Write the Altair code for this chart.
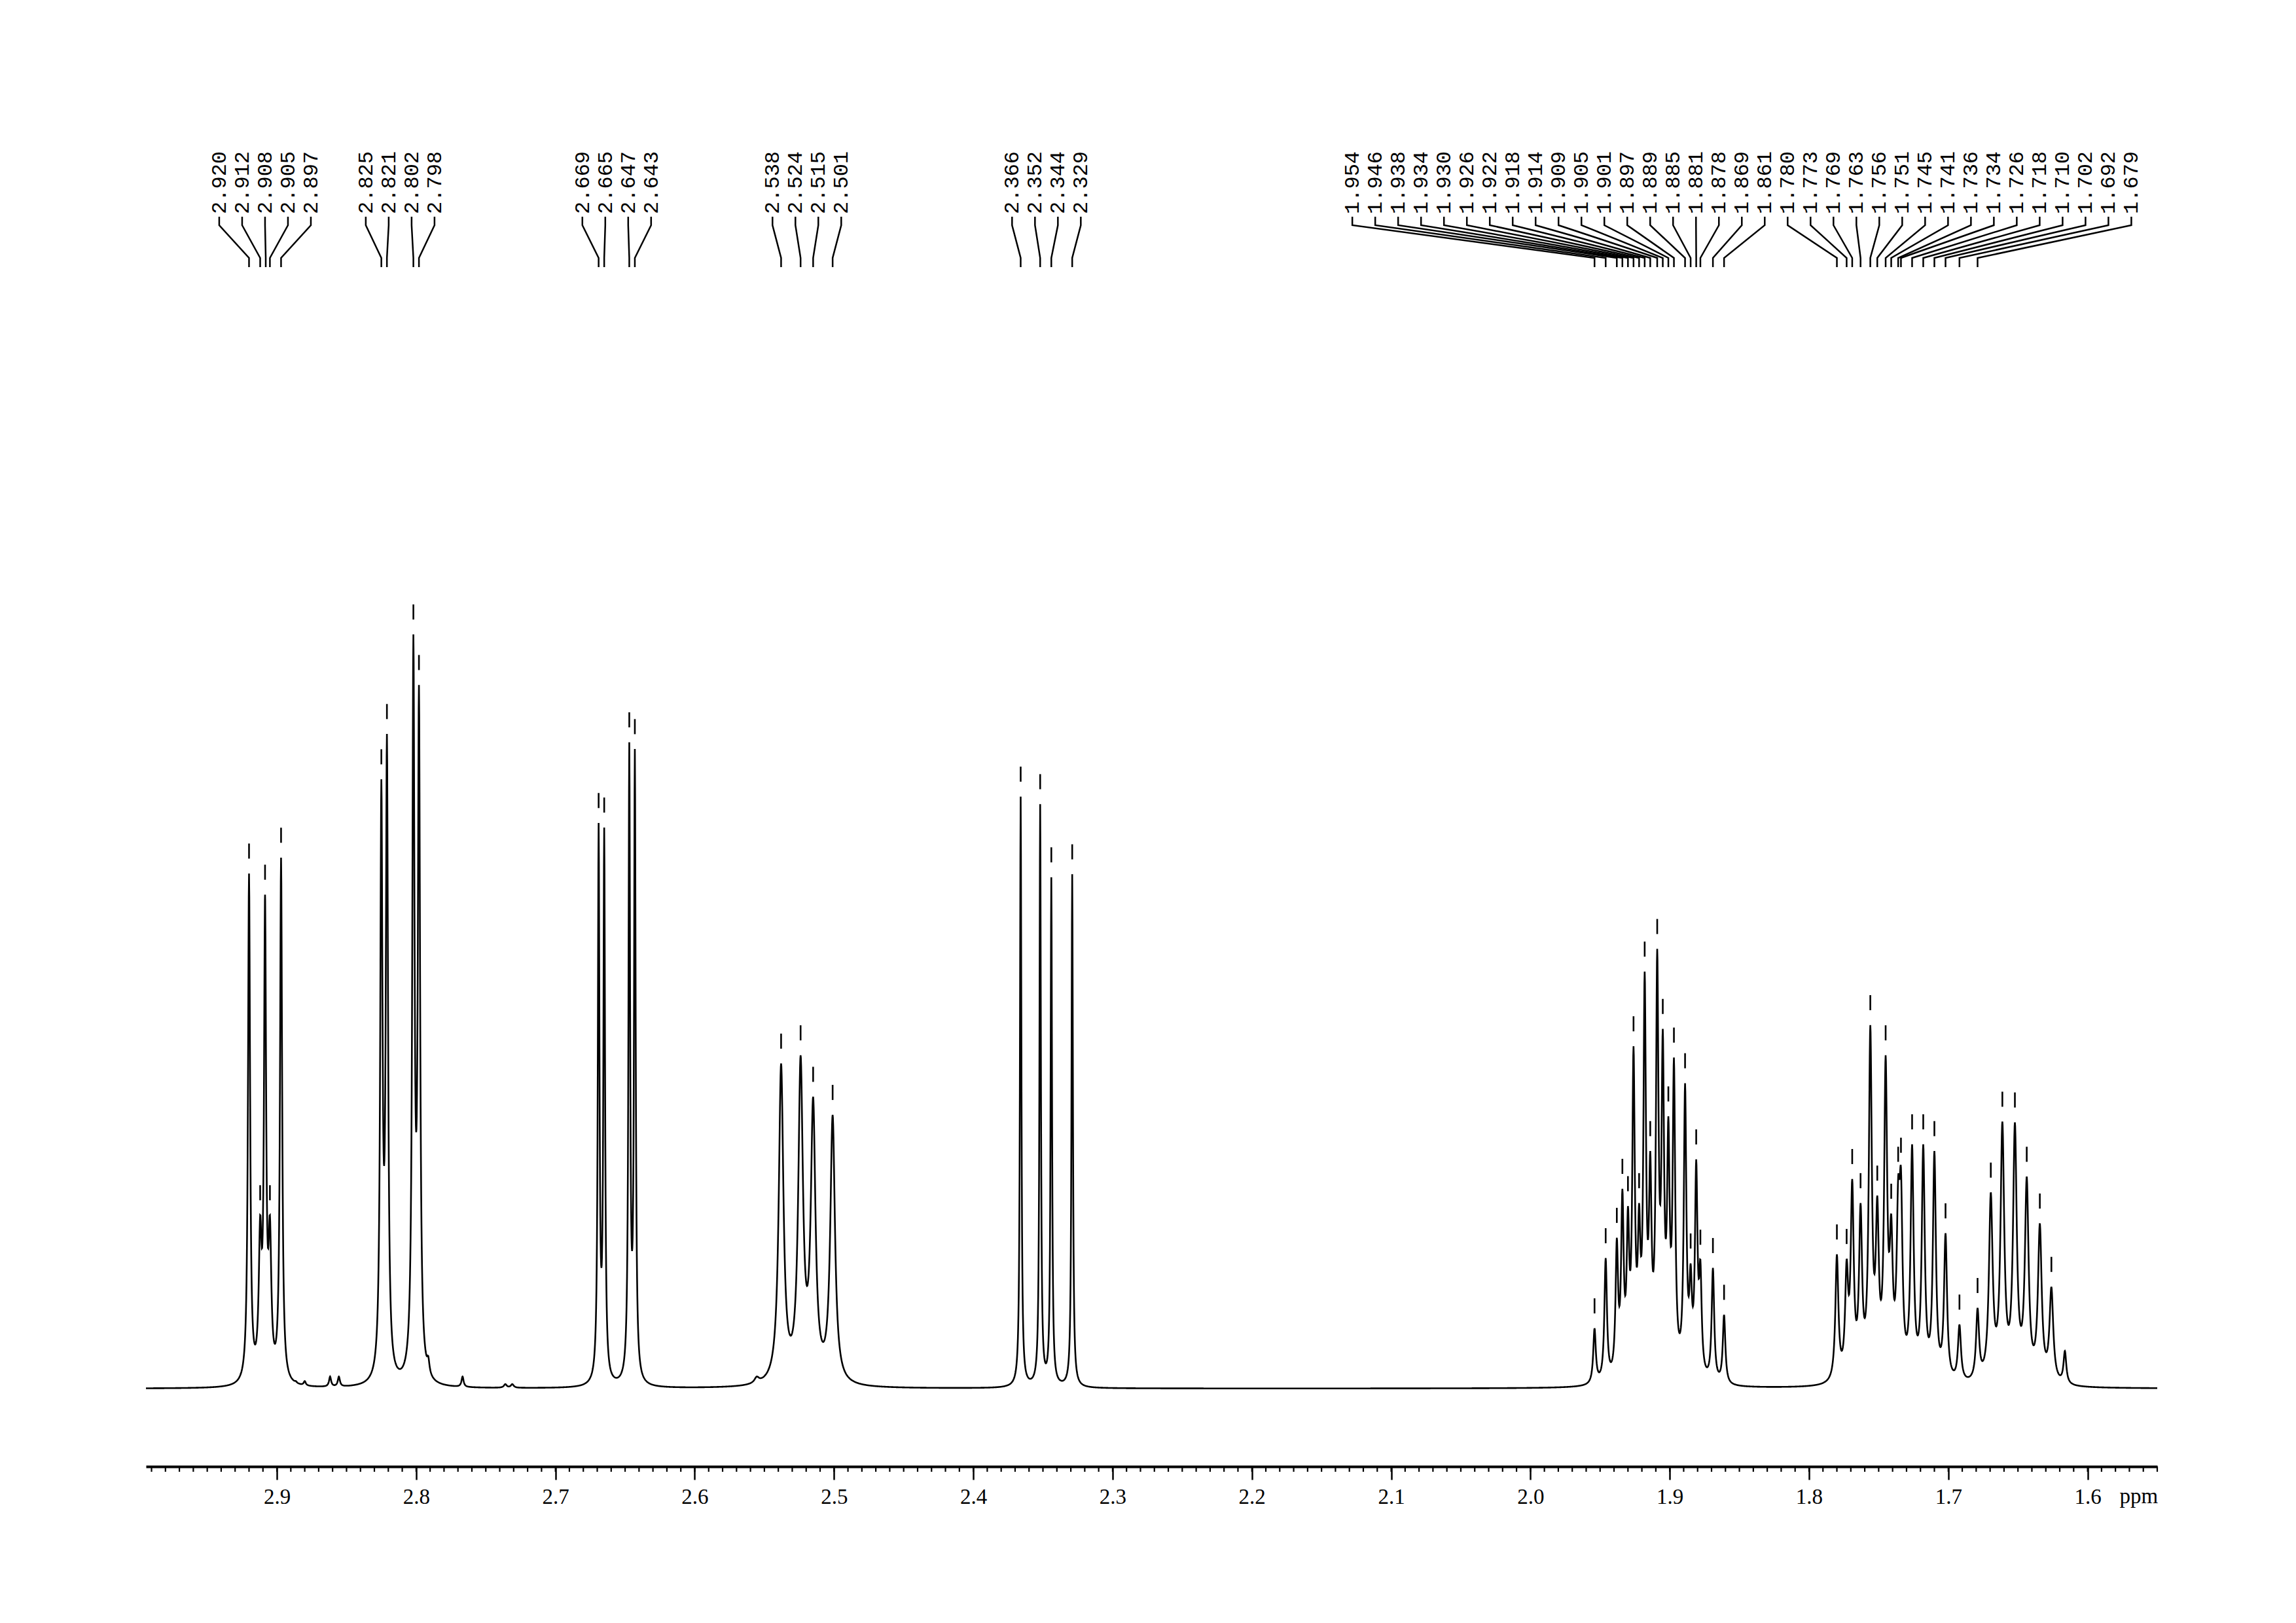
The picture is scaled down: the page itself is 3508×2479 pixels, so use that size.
import altair as alt
import numpy as np
import pandas as pd

# ---------------- axis extents ----------------
PPM_LEFT = 2.994
PPM_RIGHT = 1.550
Y_MIN = -10.33
Y_MAX = 166.75

major_ticks = [2.9, 2.8, 2.7, 2.6, 2.5, 2.4, 2.3, 2.2, 2.1, 2.0, 1.9, 1.8, 1.7, 1.6]

# ---------------- printed peak labels (ppm), one list per cluster ----------------
labels_a = [2.920, 2.912, 2.908, 2.905, 2.897]
labels_b = [2.825, 2.821, 2.802, 2.798]
labels_c = [2.669, 2.665, 2.647, 2.643]
labels_d = [2.538, 2.524, 2.515, 2.501]
labels_e = [2.366, 2.352, 2.344, 2.329]
labels_f = [1.954, 1.946, 1.938, 1.934, 1.930, 1.926, 1.922, 1.918, 1.914, 1.909,
            1.905, 1.901, 1.897, 1.889, 1.885, 1.881, 1.878, 1.869, 1.861,
            1.780, 1.773, 1.769, 1.763, 1.756, 1.751, 1.745, 1.741, 1.736, 1.734,
            1.726, 1.718, 1.710, 1.702, 1.692, 1.679]

# ---------------- spectrum lines ----------------
# position (ppm), observed height (tallest = 100), half width (ppm), picked (marker)
peak_ppm = [
    2.920, 2.912, 2.9085, 2.905, 2.897, 2.8864, 2.8800, 2.8618, 2.8555,
    2.825, 2.821, 2.802, 2.798, 2.7913, 2.7667, 2.7360, 2.7310,
    2.669, 2.665, 2.647, 2.643,
    2.5555, 2.538, 2.524, 2.515, 2.501,
    2.366, 2.352, 2.344, 2.329,
    1.954, 1.946, 1.938, 1.934, 1.930, 1.926, 1.922, 1.918, 1.914, 1.909,
    1.905, 1.901, 1.897, 1.889, 1.885, 1.881, 1.878, 1.869, 1.861,
    1.780, 1.773, 1.769, 1.763, 1.756, 1.751, 1.745, 1.741, 1.736, 1.734,
    1.726, 1.718, 1.710, 1.702, 1.692, 1.679,
    1.6695, 1.6612, 1.6522, 1.6437, 1.6343, 1.6260, 1.6163,
]
peak_height = [
    68.3, 23.0, 65.5, 23.0, 70.4, 1.0, 1.0, 1.6, 1.6,
    80.8, 86.8, 100.0, 93.3, 4.3, 1.6, 0.6, 0.6,
    75.0, 74.4, 85.7, 84.8,
    1.6, 43.1, 44.2, 38.7, 36.3,
    78.5, 77.5, 67.8, 68.2,
    8.0, 17.3, 20.0, 26.5, 24.2, 45.4, 24.6, 55.3, 31.5, 58.3,
    47.7, 36.1, 43.9, 40.5, 16.6, 30.4, 17.1, 16.0, 9.8,
    17.8, 17.2, 27.8, 24.6, 48.2, 25.6, 44.2, 23.2, 28.1, 29.3,
    32.4, 32.4, 31.5, 20.6, 8.5, 10.7,
    26.0, 35.4, 35.3, 28.1, 21.9, 13.5, 5.0,
]
peak_hwhm = [
    0.0009, 0.0012, 0.0009, 0.0012, 0.0009, 0.0009, 0.0009, 0.0009, 0.0009,
    0.00095, 0.00095, 0.00095, 0.00095, 0.0010, 0.0009, 0.0012, 0.0012,
    0.0007, 0.0007, 0.0007, 0.0007,
    0.0020, 0.0020, 0.0020, 0.0020, 0.0020,
    0.0006, 0.0006, 0.0006, 0.0006,
    0.0011, 0.0011, 0.0011, 0.0011, 0.0011, 0.0011, 0.0011, 0.0011, 0.0011, 0.0011,
    0.0011, 0.0011, 0.0011, 0.0011, 0.0011, 0.0011, 0.0011, 0.0011, 0.0011,
    0.0013, 0.0013, 0.0013, 0.0013, 0.0013, 0.0013, 0.0013, 0.0013, 0.0013, 0.0013,
    0.0013, 0.0013, 0.0013, 0.0013, 0.0013, 0.0013,
    0.0016, 0.0016, 0.0016, 0.0016, 0.0016, 0.0016, 0.0012,
]
peak_picked = [
    1, 1, 1, 1, 1, 0, 0, 0, 0,
    1, 1, 1, 1, 0, 0, 0, 0,
    1, 1, 1, 1,
    0, 1, 1, 1, 1,
    1, 1, 1, 1,
    1, 1, 1, 1, 1, 1, 1, 1, 1, 1,
    1, 1, 1, 1, 1, 1, 1, 1, 1,
    1, 1, 1, 1, 1, 1, 1, 1, 1, 1,
    1, 1, 1, 1, 1, 1,
    1, 1, 1, 1, 1, 1, 0,
]

# ---------------- build the line shape (Lorentzian lines) ----------------
P = np.array(peak_ppm)
Hobs = np.array(peak_height)
G = np.array(peak_hwhm)


def lor(x, p, g):
    return g ** 2 / ((x - p) ** 2 + g ** 2)


M = lor(P[:, None], P[None, :], G[None, :])
A = Hobs.copy()
for _ in range(400):
    A *= Hobs / (M @ A)

grid = np.unique(np.round(np.concatenate([np.arange(PPM_RIGHT, PPM_LEFT, 0.0002), P]), 5))
spec = (A[None, :] * lor(grid[:, None], P[None, :], G[None, :])).sum(axis=1)
spec_df = pd.DataFrame({"x": grid, "y": np.round(spec, 3)})

model_at_peaks = M @ A
pk = np.array(peak_picked) == 1
marker_df = pd.DataFrame({
    "x": P[pk],
    "y": model_at_peaks[pk] + 1.97,
    "y2": model_at_peaks[pk] + 3.97,
})

# ---------------- label layout ----------------
SPACING = 0.01645
EDGE = 0.0186
Y_TEXT = 155.73
LEAD_Y = [155.38, 154.25, 149.91, 148.70]

text_rows, lead_rows = [], []
k = 0
for grp in [labels_a, labels_b, labels_c, labels_d, labels_e, labels_f]:
    n = len(grp)
    c = (grp[0] + grp[-1]) / 2
    pos = [c + ((n - 1) / 2 - i) * SPACING for i in range(n)]
    lim = PPM_RIGHT + EDGE
    if pos[-1] < lim:
        s = lim - pos[-1]
        pos = [p + s for p in pos]
    for v, p in zip(grp, pos):
        text_rows.append({"x": p, "y": Y_TEXT, "t": f"{v:.3f}"})
        pts = [(p, LEAD_Y[0]), (p, LEAD_Y[1]), (v, LEAD_Y[2]), (v, LEAD_Y[3])]
        for j, (xx, yy) in enumerate(pts):
            lead_rows.append({"x": xx, "y": yy, "id": k, "o": j})
        k += 1
text_df = pd.DataFrame(text_rows)
lead_df = pd.DataFrame(lead_rows)

minor_df = pd.DataFrame({"x": np.round(np.arange(155, 300) / 100, 2)})
unit_df = pd.DataFrame({"x": [1.577], "t": ["ppm"]})

# ---------------- chart ----------------
W, H = 3073, 2040
xscale = alt.Scale(domain=[PPM_RIGHT, PPM_LEFT], reverse=True, nice=False, zero=False)
yscale = alt.Scale(domain=[Y_MIN, Y_MAX], nice=False, zero=False)
xaxis = alt.Axis(values=major_ticks, format=".1f", title=None, grid=False,
                 tickSize=20, tickWidth=2.5, tickColor="black",
                 domainWidth=4, domainColor="black",
                 labelFont="Liberation Serif", labelFontSize=33, labelColor="black",
                 labelPadding=10, labelFlush=False, labelBaseline="top")

X = alt.X("x:Q", scale=xscale, axis=xaxis)
Y = alt.Y("y:Q", scale=yscale, axis=None)

spectrum = alt.Chart(spec_df).mark_line(color="black", strokeWidth=2.6).encode(x=X, y=Y)

markers = alt.Chart(marker_df).mark_rule(color="black", strokeWidth=2.6).encode(
    x=X, y=Y, y2="y2:Q")

leaders = alt.Chart(lead_df).mark_line(color="black", strokeWidth=2.5).encode(
    x=X, y=Y, detail="id:N", order="o:Q")

label_text = alt.Chart(text_df).mark_text(
    angle=270, align="left", baseline="middle", font="Liberation Mono",
    fontSize=32, color="black").encode(x=X, y=Y, text="t:N")

minor = alt.Chart(minor_df).mark_rule(color="black", strokeWidth=2.2).encode(
    x=X, y=alt.value(H), y2=alt.value(H + 8))

unit = alt.Chart(unit_df).mark_text(
    align="left", baseline="top", font="Liberation Serif", fontSize=33,
    color="black").encode(x=X, y=alt.value(H + 30), text="t:N")

chart = alt.layer(spectrum, markers, leaders, label_text, minor, unit).properties(
    width=W, height=H,
    padding={"left": 209, "top": 192, "right": 10, "bottom": 10},
    background="white",
).configure_view(stroke=None)

chart.save("out.html", embed_options={"renderer": "svg", "actions": False})
